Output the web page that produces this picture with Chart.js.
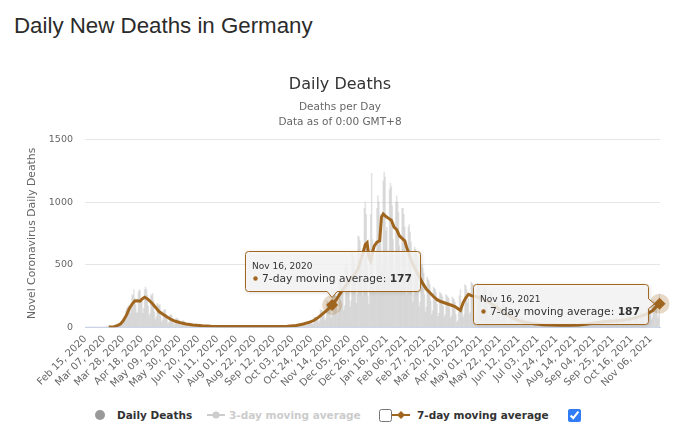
<!DOCTYPE html>
<html>
<head>
<meta charset="utf-8">
<title>Daily New Deaths in Germany</title>
<script src="https://cdn.jsdelivr.net/npm/chart.js@4.4.0/dist/chart.umd.min.js"></script>
<style>
  html, body { margin: 0; padding: 0; background: #fff; }
  body { width: 680px; height: 432px; position: relative; overflow: hidden; font-family: "DejaVu Sans", sans-serif; }
  h1 { position: absolute; left: 14px; top: 13px; margin: 0; font: normal 22.3px/26px "Liberation Sans", Arial, sans-serif; color: #2b2b2b; }
  #chartBox { position: absolute; left: 0; top: 0; width: 680px; height: 400px; }
  .lg { position: absolute; top: 408px; font: bold 10.5px/14px "DejaVu Sans", sans-serif; color: #333; white-space: nowrap; }
  .lg.off { color: #cccccc; }
  .sym { position: absolute; top: 409px; }
  input.cb { position: absolute; top: 409px; margin: 0; width: 13px; height: 13px; accent-color: #2f7cf6; }
</style>
</head>
<body>
<h1>Daily New Deaths in Germany</h1>
<div id="chartBox"><canvas id="deathsChart" width="680" height="400"></canvas></div>

<!-- legend -->
<svg class="sym" style="left:94px" width="12" height="12"><circle cx="6" cy="6" r="5" fill="#999"/></svg>
<span class="lg" style="left:117px">Daily Deaths</span>
<svg class="sym" style="left:207px" width="18" height="12"><line x1="0" y1="6" x2="18" y2="6" stroke="#ccc" stroke-width="2"/><circle cx="9" cy="6" r="3.5" fill="#ccc"/></svg>
<span class="lg off" style="left:229px">3-day moving average</span>
<input class="cb" type="checkbox" style="left:379px">
<svg class="sym" style="left:392px" width="18" height="12"><line x1="0" y1="6" x2="18" y2="6" stroke="#a0661f" stroke-width="2"/><path d="M9 2 L13 6 L9 10 L5 6 Z" fill="#a0661f"/></svg>
<span class="lg" style="left:417px">7-day moving average</span>
<input class="cb" type="checkbox" checked style="left:568px">

<script>
// x tick labels, one every 21 days starting Feb 15, 2020
const tickLabels = ['Feb 15, 2020', 'Mar 07, 2020', 'Mar 28, 2020', 'Apr 18, 2020', 'May 09, 2020',
  'May 30, 2020', 'Jun 20, 2020', 'Jul 11, 2020', 'Aug 01, 2020', 'Aug 22, 2020', 'Sep 12, 2020',
  'Oct 03, 2020', 'Oct 24, 2020', 'Nov 14, 2020', 'Dec 05, 2020', 'Dec 26, 2020', 'Jan 16, 2021',
  'Feb 06, 2021', 'Feb 27, 2021', 'Mar 20, 2021', 'Apr 10, 2021', 'May 01, 2021', 'May 22, 2021',
  'Jun 12, 2021', 'Jul 03, 2021', 'Jul 24, 2021', 'Aug 14, 2021', 'Sep 04, 2021', 'Sep 25, 2021',
  'Oct 16, 2021', 'Nov 06, 2021'];
const tickStep = 21;

// daily deaths, Feb 15, 2020 .. Nov 16, 2021 (one row per week, Sat..Fri)
const dailyDeaths = [
  0, 0, 0, 0, 0, 0, 0,
  0, 0, 0, 0, 0, 0, 0,
  0, 0, 0, 0, 0, 0, 0,
  0, 0, 1, 1, 0, 1, 2,
  3, 2, 4, 5, 8, 9, 12,
  15, 12, 20, 28, 35, 40, 55,
  70, 55, 80, 130, 150, 160, 170,
  160, 110, 140, 260, 250, 300, 230,
  180, 110, 120, 280, 300, 290, 190,
  210, 110, 150, 300, 320, 300, 255,
  170, 90, 110, 260, 250, 270, 215,
  120, 60, 80, 190, 180, 170, 180,
  90, 40, 55, 130, 140, 140, 105,
  60, 25, 40, 95, 100, 95, 75,
  40, 18, 30, 70, 70, 65, 57,
  28, 12, 20, 50, 50, 45, 40,
  20, 8, 14, 35, 33, 32, 26,
  14, 6, 10, 25, 24, 22, 18,
  10, 4, 8, 20, 18, 17, 14,
  8, 3, 6, 15, 14, 13, 11,
  6, 3, 5, 12, 11, 10, 9,
  5, 2, 4, 11, 10, 9, 8,
  5, 2, 3, 9, 9, 8, 6,
  4, 1, 3, 8, 7, 7, 5,
  4, 2, 3, 7, 8, 6, 5,
  4, 1, 3, 8, 7, 6, 6,
  3, 1, 2, 8, 7, 7, 5,
  4, 2, 3, 7, 8, 6, 5,
  4, 1, 3, 8, 6, 7, 6,
  4, 2, 3, 8, 7, 6, 5,
  5, 2, 3, 9, 9, 8, 6,
  5, 2, 4, 11, 10, 10, 7,
  6, 3, 5, 12, 12, 11, 7,
  9, 4, 6, 18, 17, 17, 13,
  15, 7, 10, 30, 28, 28, 22,
  26, 11, 16, 48, 45, 44, 34,
  45, 20, 28, 80, 78, 75, 59,
  80, 35, 50, 140, 135, 130, 95,
  120, 50, 70, 210, 200, 190, 140,
  170, 75, 100, 290, 270, 260, 200,
  235, 100, 135, 390, 370, 360, 300,
  300, 130, 170, 500, 480, 450, 350,
  350, 160, 210, 600, 590, 560, 400,
  420, 190, 260, 730, 720, 690, 490,
  550, 250, 330, 950, 1000, 900, 500,
  250, 180, 340, 900, 1230, 700, 400,
  400, 280, 350, 950, 1050, 1000, 800,
  900, 450, 500, 1170, 1240, 1200, 770,
  800, 400, 480, 1100, 1150, 1120, 970,
  700, 350, 440, 1000, 1050, 1000, 920,
  650, 320, 400, 950, 950, 900, 800,
  550, 260, 330, 800, 820, 760, 680,
  420, 200, 260, 640, 620, 600, 550,
  340, 160, 200, 500, 490, 470, 430,
  260, 120, 160, 400, 380, 370, 340,
  210, 100, 130, 320, 310, 300, 275,
  185, 85, 110, 280, 270, 260, 245,
  170, 80, 100, 260, 250, 240, 230,
  155, 70, 90, 240, 230, 220, 199,
  100, 40, 50, 120, 250, 300, 155,
  200, 80, 100, 340, 330, 300, 190,
  230, 100, 120, 360, 350, 340, 285,
  220, 95, 120, 350, 340, 330, 260,
  200, 90, 110, 320, 310, 300, 245,
  180, 80, 95, 280, 270, 260, 200,
  150, 65, 80, 240, 230, 220, 170,
  120, 50, 60, 190, 180, 170, 140,
  85, 35, 45, 140, 130, 125, 105,
  60, 25, 35, 100, 95, 95, 80,
  45, 18, 25, 75, 70, 65, 52,
  33, 14, 19, 55, 52, 50, 43,
  26, 11, 15, 44, 42, 40, 32,
  20, 9, 12, 34, 32, 30, 24,
  16, 7, 10, 28, 27, 26, 19,
  15, 6, 9, 25, 24, 23, 17,
  14, 6, 8, 23, 22, 22, 17,
  13, 5, 8, 22, 21, 21, 15,
  13, 6, 8, 22, 21, 20, 15,
  15, 6, 9, 25, 24, 23, 17,
  18, 8, 11, 31, 30, 28, 21,
  22, 10, 14, 38, 36, 35, 27,
  28, 12, 17, 47, 45, 43, 32,
  35, 15, 22, 58, 56, 54, 40,
  40, 17, 24, 65, 63, 61, 45,
  43, 18, 27, 72, 69, 66, 48,
  46, 20, 29, 78, 74, 72, 52,
  50, 22, 31, 83, 80, 77, 56,
  54, 24, 34, 90, 87, 84, 61,
  70, 30, 44, 116, 112, 108, 80,
  92, 40, 58, 152, 147, 142, 104,
  120, 55, 75, 205, 195, 190, 140,
  150, 70, 95, 265
];

// 7-day moving average (day index from Feb 15, 2020)
const avgDays = [26, 32, 36, 39, 42, 46, 49, 52, 55, 58, 61, 63, 66, 68, 71, 75, 78, 82, 86, 91,
  96, 101, 106, 112, 120, 130, 140, 155, 170, 185, 200, 215, 225, 235, 243, 250, 255, 260, 265, 270,
  275, 280, 285, 290, 295, 300, 304, 308, 312, 314, 316, 318, 320, 322, 325, 328, 330, 332, 335, 338,
  341, 344, 347, 350, 353, 356, 358, 361, 364, 368, 372, 376, 380, 384, 388, 392, 396, 400, 404, 408,
  412, 415, 418, 421, 424, 427, 431, 435, 440, 445, 450, 455, 460, 465, 470, 475, 480, 486, 492, 500,
  510, 520, 530, 540, 550, 560, 570, 580, 590, 600, 610, 616, 622, 627, 632, 636, 640];
const avgValues = [1, 4, 14, 25, 50, 100, 150, 185, 210, 212, 208, 225, 240, 232, 215, 185, 160, 125, 105, 82,
  60, 45, 35, 25, 17, 11, 8, 6, 5, 5, 5, 6, 7, 14, 25, 40, 55, 80, 110, 140,
  177, 225, 280, 330, 380, 420, 470, 560, 660, 675, 560, 530, 600, 650, 680, 690, 880, 905, 885, 870,
  855, 800, 780, 730, 710, 690, 640, 580, 520, 460, 405, 350, 305, 275, 245, 220, 205, 195, 185, 175,
  165, 150, 135, 195, 235, 262, 250, 245, 235, 220, 200, 175, 150, 125, 100, 80, 60, 45, 35, 28,
  20, 17, 15, 15, 18, 25, 35, 45, 50, 55, 70, 80, 95, 110, 130, 160, 187];

// pinned tooltips
const hlDays = [275, 640];
const hlDates = ['Nov 16, 2020', 'Nov 16, 2021'];
const hlSides = ['top', 'left'];

const brown = '#a0661f';
const font = 'DejaVu Sans';

function tipPath(ctx, bx, by, w, h, r, side, px, py) {
    ctx.beginPath();
    ctx.moveTo(bx + r, by);
    ctx.lineTo(bx + w - r, by);
    ctx.arcTo(bx + w, by, bx + w, by + r, r);
    if (side === 'left') {
        ctx.lineTo(bx + w, py - 5);
        ctx.lineTo(bx + w + 6, py);
        ctx.lineTo(bx + w, py + 5);
    }
    ctx.lineTo(bx + w, by + h - r);
    ctx.arcTo(bx + w, by + h, bx + w - r, by + h, r);
    if (side === 'top') {
        ctx.lineTo(px + 5, by + h);
        ctx.lineTo(px, by + h + 6);
        ctx.lineTo(px - 5, by + h);
    }
    ctx.lineTo(bx + r, by + h);
    ctx.arcTo(bx, by + h, bx, by + h - r, r);
    ctx.lineTo(bx, by + r);
    ctx.arcTo(bx, by, bx + r, by, r);
    ctx.closePath();
}

const pinnedTooltips = {
    id: 'pinnedTooltips',
    afterDatasetsDraw(chart) {
        const { ctx, scales: { x, y } } = chart;
        hlDays.forEach((day, k) => {
            const value = avgValues[avgDays.indexOf(day)];
            const px = x.getPixelForValue(day);
            const py = y.getPixelForValue(value);
            ctx.save();
            // hover halo + diamond marker
            ctx.fillStyle = 'rgba(160, 102, 31, 0.25)';
            ctx.beginPath();
            ctx.arc(px, py, 10, 0, Math.PI * 2);
            ctx.fill();
            ctx.fillStyle = brown;
            ctx.beginPath();
            ctx.moveTo(px, py - 6);
            ctx.lineTo(px + 6, py);
            ctx.lineTo(px, py + 6);
            ctx.lineTo(px - 6, py);
            ctx.closePath();
            ctx.fill();

            // tooltip box
            const label = '7-day moving average: ';
            ctx.font = '10.7px "' + font + '"';
            const labelW = ctx.measureText(label).width;
            ctx.font = 'bold 10.7px "' + font + '"';
            const valW = ctx.measureText(String(value)).width;
            const w = 16.5 + labelW + valW + 8.5;
            const h = 40;
            let bx, by;
            if (hlSides[k] === 'top') {
                bx = px - w / 2;
                by = py - 14 - h;
            } else {
                bx = px - 12 - w;
                by = py - h / 2;
            }
            bx = Math.round(bx) + 0.5;
            by = Math.round(by) + 0.5;
            ctx.shadowColor = 'rgba(0, 0, 0, 0.18)';
            ctx.shadowBlur = 4;
            ctx.shadowOffsetX = 1;
            ctx.shadowOffsetY = 1;
            tipPath(ctx, bx, by, w, h, 3, hlSides[k], px, py);
            ctx.fillStyle = 'rgba(247, 247, 247, 0.85)';
            ctx.fill();
            ctx.shadowColor = 'transparent';
            ctx.strokeStyle = brown;
            ctx.lineWidth = 1;
            ctx.stroke();

            ctx.textBaseline = 'alphabetic';
            ctx.textAlign = 'left';
            ctx.fillStyle = '#333';
            ctx.font = '9px "' + font + '"';
            ctx.fillText(hlDates[k], bx + 6.5, by + 17.5);
            ctx.fillStyle = brown;
            ctx.beginPath();
            ctx.arc(bx + 10, by + 27, 2.2, 0, Math.PI * 2);
            ctx.fill();
            ctx.fillStyle = '#333';
            ctx.font = '10.7px "' + font + '"';
            ctx.fillText(label, bx + 16.5, by + 30.5);
            ctx.font = 'bold 10.7px "' + font + '"';
            ctx.fillText(String(value), bx + 16.5 + labelW, by + 30.5);
            ctx.restore();
        });
    }
};

const ctx = document.getElementById('deathsChart').getContext('2d');
new Chart(ctx, {
    type: 'line',
    data: {
        datasets: [{
            type: 'line',
            label: '7-day moving average',
            data: avgDays.map((d, i) => ({ x: d, y: avgValues[i] })),
            borderColor: brown,
            borderWidth: 3,
            pointRadius: 0,
            tension: 0,
            order: 0
        }, {
            type: 'bar',
            label: 'Daily Deaths',
            data: dailyDeaths.map((v, i) => ({ x: i, y: v })),
            backgroundColor: 'rgba(190, 190, 190, 0.45)',
            barPercentage: 1,
            categoryPercentage: 1,
            order: 1
        }]
    },
    options: {
        responsive: false,
        animation: false,
        layout: { padding: { left: 20, right: 20, top: 0, bottom: 4 } },
        plugins: {
            legend: { display: false },
            tooltip: { enabled: false },
            title: {
                display: true,
                text: 'Daily Deaths',
                color: '#333',
                font: { family: font, size: 16, weight: 'normal', lineHeight: 1.2 },
                padding: { top: 75, bottom: 6 }
            },
            subtitle: {
                display: true,
                text: ['Deaths per Day', 'Data as of 0:00 GMT+8'],
                color: '#666',
                font: { family: font, size: 10.5, lineHeight: 1.4 },
                padding: { top: 0, bottom: 10 }
            }
        },
        scales: {
            x: {
                type: 'linear',
                min: -0.5,
                max: 640.5,
                offset: false,
                grid: { display: false, drawTicks: false },
                border: { color: '#ccd6eb' },
                afterBuildTicks: scale => {
                    scale.ticks = tickLabels.map((t, i) => ({ value: i * tickStep }));
                },
                ticks: {
                    autoSkip: false,
                    minRotation: 45,
                    maxRotation: 45,
                    padding: 6,
                    color: '#666',
                    font: { family: font, size: 10 },
                    callback: v => tickLabels[Math.round(v / tickStep)]
                }
            },
            y: {
                min: 0,
                max: 1500,
                afterFit: scale => { scale.width = 65; },
                ticks: {
                    stepSize: 500,
                    padding: 12,
                    color: '#666',
                    font: { family: font, size: 9.5 },
                    callback: v => String(v)
                },
                grid: { color: '#e6e6e6', drawTicks: false },
                border: { display: false },
                title: {
                    display: true,
                    text: 'Novel Coronavirus Daily Deaths',
                    color: '#666',
                    font: { family: font, size: 10.8 },
                    padding: { top: 6, bottom: 0 }
                }
            }
        }
    },
    plugins: [pinnedTooltips]
});
</script>
</body>
</html>
